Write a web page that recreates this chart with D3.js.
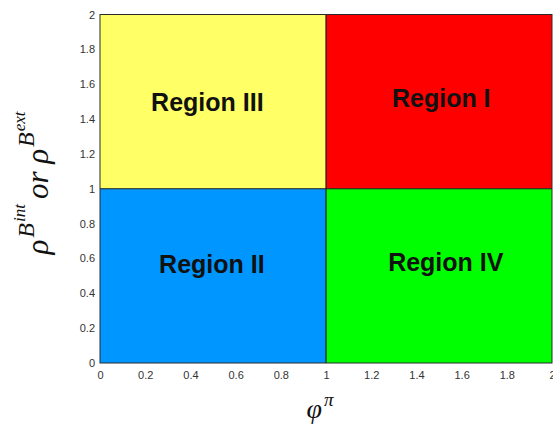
<!DOCTYPE html>
<html>
<head>
<meta charset="utf-8">
<script src="https://cdn.jsdelivr.net/npm/d3@7"></script>
<style>
  html, body { margin: 0; padding: 0; background: #fff; }
  svg { display: block; }
</style>
</head>
<body>
<svg id="chart" width="553" height="430"></svg>
<script>
// Quadrant regions in (phi^pi, rho) space
const regionNames = ["Region III", "Region I", "Region II", "Region IV"];
const regionX0 = [0, 1, 0, 1];
const regionX1 = [1, 2, 1, 2];
const regionY0 = [1, 1, 0, 0];
const regionY1 = [2, 2, 1, 1];
const regionColors = ["#FFFF66", "#FF0000", "#0096FF", "#00FF00"];
// label anchor points (data units)
const labelX = [0.475, 1.51, 0.495, 1.53];
const labelY = [1.5, 1.52, 0.57, 0.58];

const tickValues = [0, 0.2, 0.4, 0.6, 0.8, 1, 1.2, 1.4, 1.6, 1.8, 2];
const threshold = 1;

const svg = d3.select("#chart");
const margin = { left: 100, right: 1, top: 14.5, bottom: 67 };
const W = 553, H = 430;

const x = d3.scaleLinear().domain([0, 2]).range([margin.left, W - margin.right]);
const y = d3.scaleLinear().domain([0, 2]).range([H - margin.bottom, margin.top]);

const idx = d3.range(regionNames.length);

// filled regions
svg.append("g").selectAll("rect").data(idx).join("rect")
  .attr("x", i => x(regionX0[i]))
  .attr("y", i => y(regionY1[i]))
  .attr("width", i => x(regionX1[i]) - x(regionX0[i]))
  .attr("height", i => y(regionY0[i]) - y(regionY1[i]))
  .attr("fill", i => regionColors[i]);

// dividing lines at the threshold
svg.append("line")
  .attr("x1", x(threshold)).attr("x2", x(threshold))
  .attr("y1", y(0)).attr("y2", y(2))
  .attr("stroke", "#1a1a1a").attr("stroke-width", 1.2);
svg.append("line")
  .attr("x1", x(0)).attr("x2", x(2))
  .attr("y1", y(threshold)).attr("y2", y(threshold))
  .attr("stroke", "#1a1a1a").attr("stroke-width", 1.2);

// frame
svg.append("rect")
  .attr("x", x(0)).attr("y", y(2))
  .attr("width", x(2) - x(0)).attr("height", y(0) - y(2))
  .attr("fill", "none").attr("stroke", "#2a2a2a").attr("stroke-width", 1);

const fmt = d => String(+d.toFixed(1));

const xAxis = svg.append("g")
  .attr("transform", `translate(0,${y(0)})`)
  .call(d3.axisBottom(x).tickValues(tickValues).tickFormat(fmt).tickSize(0).tickPadding(8));
const yAxis = svg.append("g")
  .attr("transform", `translate(${x(0)},0)`)
  .call(d3.axisLeft(y).tickValues(tickValues).tickFormat(fmt).tickSize(0).tickPadding(5));

[xAxis, yAxis].forEach(g => {
  g.select(".domain").remove();
  g.selectAll("text")
    .attr("fill", "#333")
    .style("font-family", "'Liberation Sans', Arial, sans-serif")
    .style("font-size", "11px");
});

// region labels
svg.append("g").selectAll("text").data(idx).join("text")
  .attr("x", i => x(labelX[i]))
  .attr("y", i => y(labelY[i]))
  .attr("text-anchor", "middle")
  .attr("dominant-baseline", "central")
  .style("font-family", "'Liberation Sans', Arial, sans-serif")
  .style("font-weight", "bold")
  .style("font-size", "25px")
  .attr("fill", "#111")
  .text(i => regionNames[i]);

// axis titles
const serif = "'Liberation Serif', 'DejaVu Serif', serif";
const xt = svg.append("text")
  .attr("x", 320).attr("y", 418)
  .attr("text-anchor", "middle")
  .style("font-family", serif).style("font-style", "italic")
  .style("font-size", "28px").attr("fill", "#111");
xt.append("tspan").text("φ");
xt.append("tspan").attr("dy", -12).attr("dx", 2).style("font-size", "19px").text("π");

const yt = svg.append("text")
  .attr("transform", `translate(48,${183}) rotate(-90)`)
  .attr("text-anchor", "middle")
  .style("font-family", serif).style("font-style", "italic")
  .style("font-size", "31px").attr("fill", "#111");
yt.append("tspan").text("ρ");
yt.append("tspan").attr("dy", -14).attr("dx", 2).style("font-size", "24px").text("B");
yt.append("tspan").attr("dy", -9).attr("dx", 1).style("font-size", "17px").text("int");
yt.append("tspan").attr("dy", 23).attr("dx", 5).text("or ρ");
yt.append("tspan").attr("dy", -14).attr("dx", 2).style("font-size", "24px").text("B");
yt.append("tspan").attr("dy", -9).attr("dx", 1).style("font-size", "17px").text("ext");
</script>
</body>
</html>
